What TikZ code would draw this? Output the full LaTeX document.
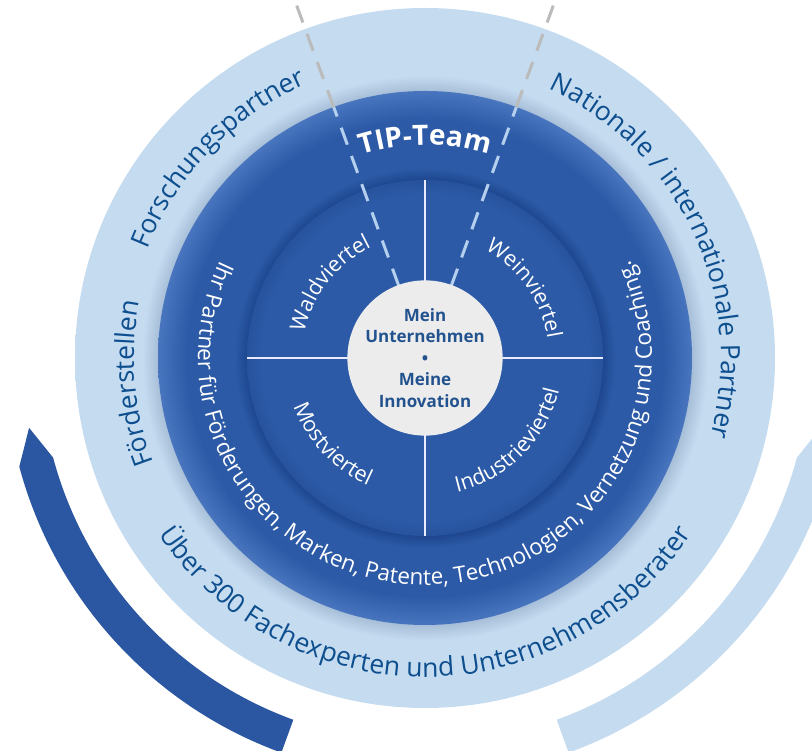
\documentclass[tikz,border=0pt]{standalone}
\usepackage{fontspec}
\setmainfont{Open Sans}
\usetikzlibrary{decorations.text}
\definecolor{lightring}{HTML}{C5DBF0}
\definecolor{ringshadow}{HTML}{A8BFD9}
\definecolor{darkarc}{HTML}{2B56A1}
\definecolor{quadblue}{HTML}{2C5AA6}
\definecolor{quadedge}{HTML}{27529D}
\definecolor{ringin}{HTML}{1E4790}
\definecolor{ringmid}{HTML}{2C5AA6}
\definecolor{ringout}{HTML}{4875BE}
\definecolor{centerfill}{HTML}{ECECEC}
\definecolor{outerblue}{HTML}{0D4E8E}
\definecolor{centerblue}{HTML}{23538F}
\definecolor{dashlight}{HTML}{B5D0EE}
\definecolor{dashgray}{HTML}{BBBBBB}
\pgfdeclareradialshading{lightringshade}{\pgfpoint{0bp}{0bp}}{color(0bp)=(ringshadow); color(19.1bp)=(ringshadow); color(20.2bp)=(lightring); color(25bp)=(lightring); color(50bp)=(lightring)}
\pgfdeclareradialshading{darkringshade}{\pgfpoint{0bp}{0bp}}{color(0bp)=(ringin); color(16.7bp)=(ringin); color(17.8bp)=(ringmid); color(22.3bp)=(ringmid); color(25bp)=(ringout); color(50bp)=(ringout)}
\pgfdeclareradialshading{quadshade}{\pgfpoint{0bp}{0bp}}{color(0bp)=(quadblue); color(23bp)=(quadblue); color(25bp)=(quadedge); color(50bp)=(quadedge)}
\newcommand\outerfmt{\fontsize{26.5}{30}\selectfont\color{outerblue}}
\newcommand\ringfmt{\fontsize{22.5}{26}\selectfont\color{white}}
\newcommand\quadfmt{\fontsize{21.5}{25}\selectfont\color{white}}
\newcommand\teamfmt{\bfseries\fontsize{28}{32}\selectfont\color{white}}
\tikzset{
  arctext/.style={decorate, decoration={text along path, text align=center, text={#1}}},
  quadline/.style={draw=white!92!blue, line width=2.8pt},
  dashin/.style={draw=dashlight, line width=3pt, dash pattern=on 18pt off 12pt},
  dashout/.style={draw=dashgray, line width=3pt, dash pattern=on 18pt off 12pt},
}
\begin{document}
\begin{tikzpicture}[x=1pt,y=1pt]
\useasboundingbox (0,0) rectangle (812,751);
\clip (0,0) rectangle (812,751);
\coordinate (C) at (425,393);
% side arcs
\fill[darkarc] ([shift={(C)}]190:402) -- ([shift={(C)}]195:420) arc[start angle=195,end angle=250,radius=420]
  -- ([shift={(C)}]250:385) arc[start angle=250,end angle=195,radius=385] -- cycle;
\fill[lightring] ([shift={(C)}]350:402) -- ([shift={(C)}]345:420) arc[start angle=345,end angle=290,radius=420]
  -- ([shift={(C)}]290:385) arc[start angle=290,end angle=345,radius=385] -- cycle;
% rings
\shade[shading=lightringshade] (C) circle[radius=350];
\shade[shading=darkringshade] (C) circle[radius=267];
\shade[shading=quadshade] (C) circle[radius=178];
% quadrant lines
\foreach \a in {0,90,180,270} \draw[quadline] ([shift={(C)}]\a:77) -- ([shift={(C)}]\a:178);
% dashed lines
\foreach \a in {70,110} {
  \draw[dashin] ([shift={(C)}]\a:77) -- ([shift={(C)}]\a:267);
  \draw[dashout] ([shift={(C)}]\a:267) -- ([shift={(C)}]\a:400);
}
% centre
\node[circle, fill=centerfill, minimum size=154pt, inner sep=0pt, align=center, text=centerblue,
  font=\bfseries\fontsize{17}{21.5}\selectfont] (core) at (C) {Mein\\Unternehmen\\•\\Meine\\Innovation};
% outer ring texts
\path[arctext={|\outerfmt|Forschungspartner}] ([shift={(C)}]176:298) arc[start angle=176,end angle=96,radius=298];
\path[arctext={|\outerfmt|Förderstellen}] ([shift={(C)}]215:291) arc[start angle=215,end angle=155,radius=291];
\path[arctext={|\outerfmt|Nationale / internationale Partner}] ([shift={(C)}]82:296) arc[start angle=82,end angle=-32,radius=296];
\path[arctext={|\outerfmt|Über 300 Fachexperten und Unternehmensberater}] ([shift={(C)}]200:319) arc[start angle=200,end angle=340,radius=319];
% dark ring texts
\path[arctext={|\teamfmt|TIP-Team}] ([shift={(C)}]130:213) arc[start angle=130,end angle=50,radius=213];
\path[arctext={|\ringfmt|Ihr Partner für Förderungen, Marken, Patente, Technologien, Vernetzung und Coaching.}] ([shift={(C)}]140:227) arc[start angle=140,end angle=400,radius=227];
% quadrant texts
\path[arctext={|\quadfmt|Waldviertel}] ([shift={(C)}]192:123) arc[start angle=192,end angle=92,radius=123];
\path[arctext={|\quadfmt|Weinviertel}] ([shift={(C)}]85:124) arc[start angle=85,end angle=-15,radius=124];
\path[arctext={|\quadfmt|Mostviertel}] ([shift={(C)}]173:140) arc[start angle=173,end angle=273,radius=140];
\path[arctext={|\quadfmt|Industrieviertel}] ([shift={(C)}]260:138) arc[start angle=260,end angle=370,radius=138];
\end{tikzpicture}
\end{document}
